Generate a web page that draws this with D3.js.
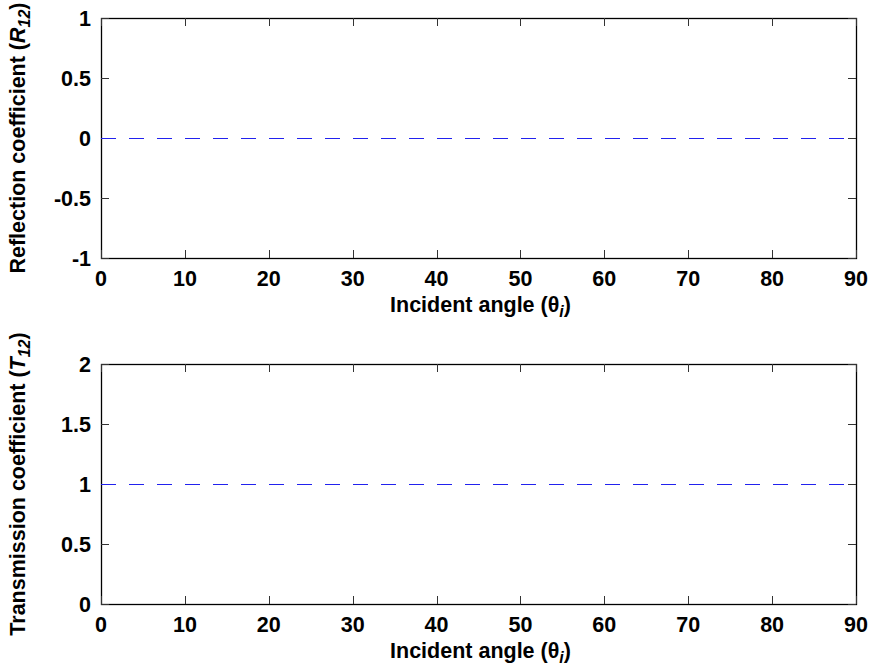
<!DOCTYPE html>
<html>
<head>
<meta charset="utf-8">
<script src="https://cdn.jsdelivr.net/npm/d3@7"></script>
<style>
  html, body { margin: 0; padding: 0; background: #fff; }
  svg text { font-family: "Liberation Sans", Arial, sans-serif; font-weight: bold; fill: #000; }
</style>
</head>
<body>
<svg id="chart" width="872" height="669"></svg>
<script>
// Incident angles (degrees) and the coefficients computed at them
const incidentAngle = [0, 90];
const reflection = [0, 0];
const transmission = [1, 1];

const xTicks = [0, 10, 20, 30, 40, 50, 60, 70, 80, 90];
const reflTicks = [-1, -0.5, 0, 0.5, 1];
const transTicks = [0, 0.5, 1, 1.5, 2];

const svg = d3.select("#chart");
const left = 101, right = 856;
const x = d3.scaleLinear().domain([0, 90]).range([left, right]);
const fmt = d => String(d);

function panel(top, bottom, yDomain, yTicks, values, yLabelParts) {
  const y = d3.scaleLinear().domain(yDomain).range([bottom, top]);
  const g = svg.append("g");
  const tickLen = 8;

  // frame
  g.append("rect")
    .attr("x", left + 0.5).attr("y", top + 0.5)
    .attr("width", right - left).attr("height", bottom - top)
    .attr("fill", "none").attr("stroke", "#000").attr("stroke-width", 1.3);

  // inward ticks on all four sides
  const tickColor = "#333";
  xTicks.forEach(t => {
    const xx = Math.round(x(t)) + 0.5;
    g.append("line").attr("x1", xx).attr("x2", xx).attr("y1", bottom).attr("y2", bottom - tickLen).attr("stroke", tickColor);
    g.append("line").attr("x1", xx).attr("x2", xx).attr("y1", top).attr("y2", top + tickLen).attr("stroke", tickColor);
  });
  yTicks.forEach(t => {
    const yy = Math.round(y(t)) + 0.5;
    g.append("line").attr("x1", left).attr("x2", left + tickLen).attr("y1", yy).attr("y2", yy).attr("stroke", tickColor);
    g.append("line").attr("x1", right).attr("x2", right - tickLen).attr("y1", yy).attr("y2", yy).attr("stroke", tickColor);
  });

  // tick labels
  g.selectAll(".xt").data(xTicks).enter().append("text")
    .attr("x", d => x(d)).attr("y", bottom + 28)
    .attr("text-anchor", "middle").attr("font-size", 21.5).text(fmt);
  g.selectAll(".yt").data(yTicks).enter().append("text")
    .attr("x", left - 10).attr("y", d => y(d) + 7.5)
    .attr("text-anchor", "end").attr("font-size", 21.5).text(fmt);

  // data line
  const line = d3.line().x((d, i) => x(incidentAngle[i])).y(d => Math.round(y(d)) + 0.5);
  g.append("path").datum(values)
    .attr("d", line)
    .attr("fill", "none").attr("stroke", "#2222ee").attr("stroke-width", 1.1)
    .attr("stroke-dasharray", "15,13");

  // x label
  const xl = g.append("text")
    .attr("x", (left + right) / 2 + 2).attr("y", bottom + 54)
    .attr("text-anchor", "middle").attr("font-size", 21.5);
  xl.append("tspan").text("Incident angle (\u03b8");
  xl.append("tspan").attr("font-style", "italic").attr("font-size", 16).attr("dy", 5).text("i");
  xl.append("tspan").attr("dy", -5).text(")");

  // y label
  const yl = g.append("text")
    .attr("transform", `translate(25,${(top + bottom) / 2}) rotate(-90)`)
    .attr("text-anchor", "middle").attr("font-size", 21.5);
  yl.append("tspan").text(yLabelParts[0] + " (");
  yl.append("tspan").attr("font-style", "italic").text(yLabelParts[1]);
  yl.append("tspan").attr("font-style", "italic").attr("font-size", 16).attr("dy", 5).text("12");
  yl.append("tspan").attr("dy", -5).text(")");
}

panel(18, 258, [-1, 1], reflTicks, reflection, ["Reflection coefficient", "R"]);
panel(364, 604, [0, 2], transTicks, transmission, ["Transmission coefficient", "T"]);
</script>
</body>
</html>
